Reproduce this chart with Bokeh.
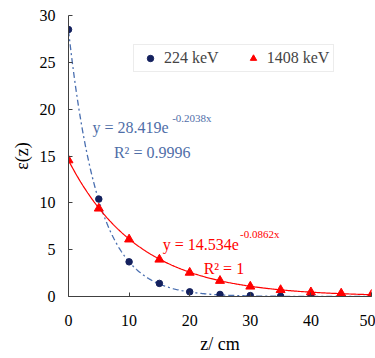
import numpy as np
from bokeh.plotting import figure
from bokeh.models import Range1d, FixedTicker, Label, Legend, LegendItem
from bokeh.embed import file_html
from bokeh.resources import INLINE

# ---- data ----
z_cm = [0, 5, 10, 15, 20, 25, 30, 35, 40, 45, 50]
eps_224 = [28.5, 10.4, 3.7, 1.4, 0.5, 0.22, 0.1, 0.03, 0.02, 0.01, 0.01]
eps_1408 = [14.55, 9.4, 6.1, 3.95, 2.55, 1.68, 1.07, 0.7, 0.46, 0.33, 0.2]

# exponential trendline coefficients shown in the chart
fit_224 = (28.419, -0.2038)
fit_1408 = (14.534, -0.0862)

x_ticks = [0, 10, 20, 30, 40, 50]
y_ticks = [0, 5, 10, 15, 20, 25, 30]

series_names = ["224 keV", "1408 keV"]

SERIF = "Liberation Serif"
NAVY = "#14215e"
BLUE_LINE = "#4a6fb0"
BLUE_TEXT = "#4f6ea8"
RED = "#ff0000"

p = figure(width=375, height=358, output_backend="svg", toolbar_location=None,
           x_range=Range1d(0, 50), y_range=Range1d(0, 30),
           min_border_left=68, min_border_right=4, min_border_top=15, min_border_bottom=62)
p.outline_line_color = None
p.xgrid.grid_line_color = None
p.ygrid.grid_line_color = None
p.background_fill_color = "white"

# exponential trendlines (coefficients from the chart's equations)
zz = np.linspace(0, 50, 300)
p.line(zz, fit_224[0] * np.exp(fit_224[1] * zz), line_color=BLUE_LINE,
       line_width=1.3, line_dash="6 3 2 3")
p.line(zz, fit_1408[0] * np.exp(fit_1408[1] * zz), line_color=RED, line_width=1.2)

# data markers
r1 = p.scatter(z_cm, eps_224, marker="circle", size=6.5, fill_color=NAVY, line_color=NAVY)
r2 = p.scatter(z_cm, eps_1408, marker="triangle", size=9, fill_color=RED, line_color=RED)

for ax in (p.xaxis[0], p.yaxis[0]):
    ax.axis_line_color = "#404040"
    ax.major_tick_line_color = "#404040"
    ax.major_tick_in = 4
    ax.major_tick_out = 0
    ax.minor_tick_line_color = None
    ax.major_label_text_font = SERIF
    ax.major_label_text_font_size = "16px"
    ax.major_label_text_color = "black"
    ax.axis_label_text_font = SERIF
    ax.axis_label_text_font_size = "18px"
    ax.axis_label_text_font_style = "normal"
    ax.axis_label_text_color = "black"

p.xaxis.ticker = FixedTicker(ticks=x_ticks)
p.yaxis.ticker = FixedTicker(ticks=y_ticks)
p.xaxis.axis_label = "z/ cm"
p.yaxis.axis_label = "ε(z)"
p.xaxis.major_label_standoff = 18
p.yaxis.major_label_standoff = 13
p.xaxis.axis_label_standoff = 5
p.yaxis.axis_label_standoff = 5

legend = Legend(items=[LegendItem(label=series_names[0], renderers=[r1]),
                       LegendItem(label=series_names[1], renderers=[r2])],
                orientation="horizontal", location=(65, 224),
                label_text_font=SERIF, label_text_font_size="16px",
                padding=4, glyph_width=24, glyph_height=16, label_height=16,
                label_standoff=2, spacing=22,
                border_line_color="#d9d9d9", border_line_width=1,
                background_fill_color="white", background_fill_alpha=1.0,
                margin=0)
p.add_layout(legend, "center")

def lab(x, y, text, color, size):
    p.add_layout(Label(x=x, y=y, text=text, text_color=color, text_font=SERIF,
                       text_font_size=size, text_baseline="alphabetic",
                       text_align="left"))

lab(3.96, 18.05, "y = 28.419e", BLUE_TEXT, "16px")
lab(17.1, 19.05, "-0.2038x", BLUE_TEXT, "11px")
lab(7.5, 15.4, "R² = 0.9996", BLUE_TEXT, "16px")

lab(15.56, 5.6, "y = 14.534e", RED, "16px")
lab(28.3, 6.66, "-0.0862x", RED, "11px")
lab(22.3, 3.0, "R² = 1", RED, "16px")

open("out.html", "w").write(file_html(p, INLINE))
